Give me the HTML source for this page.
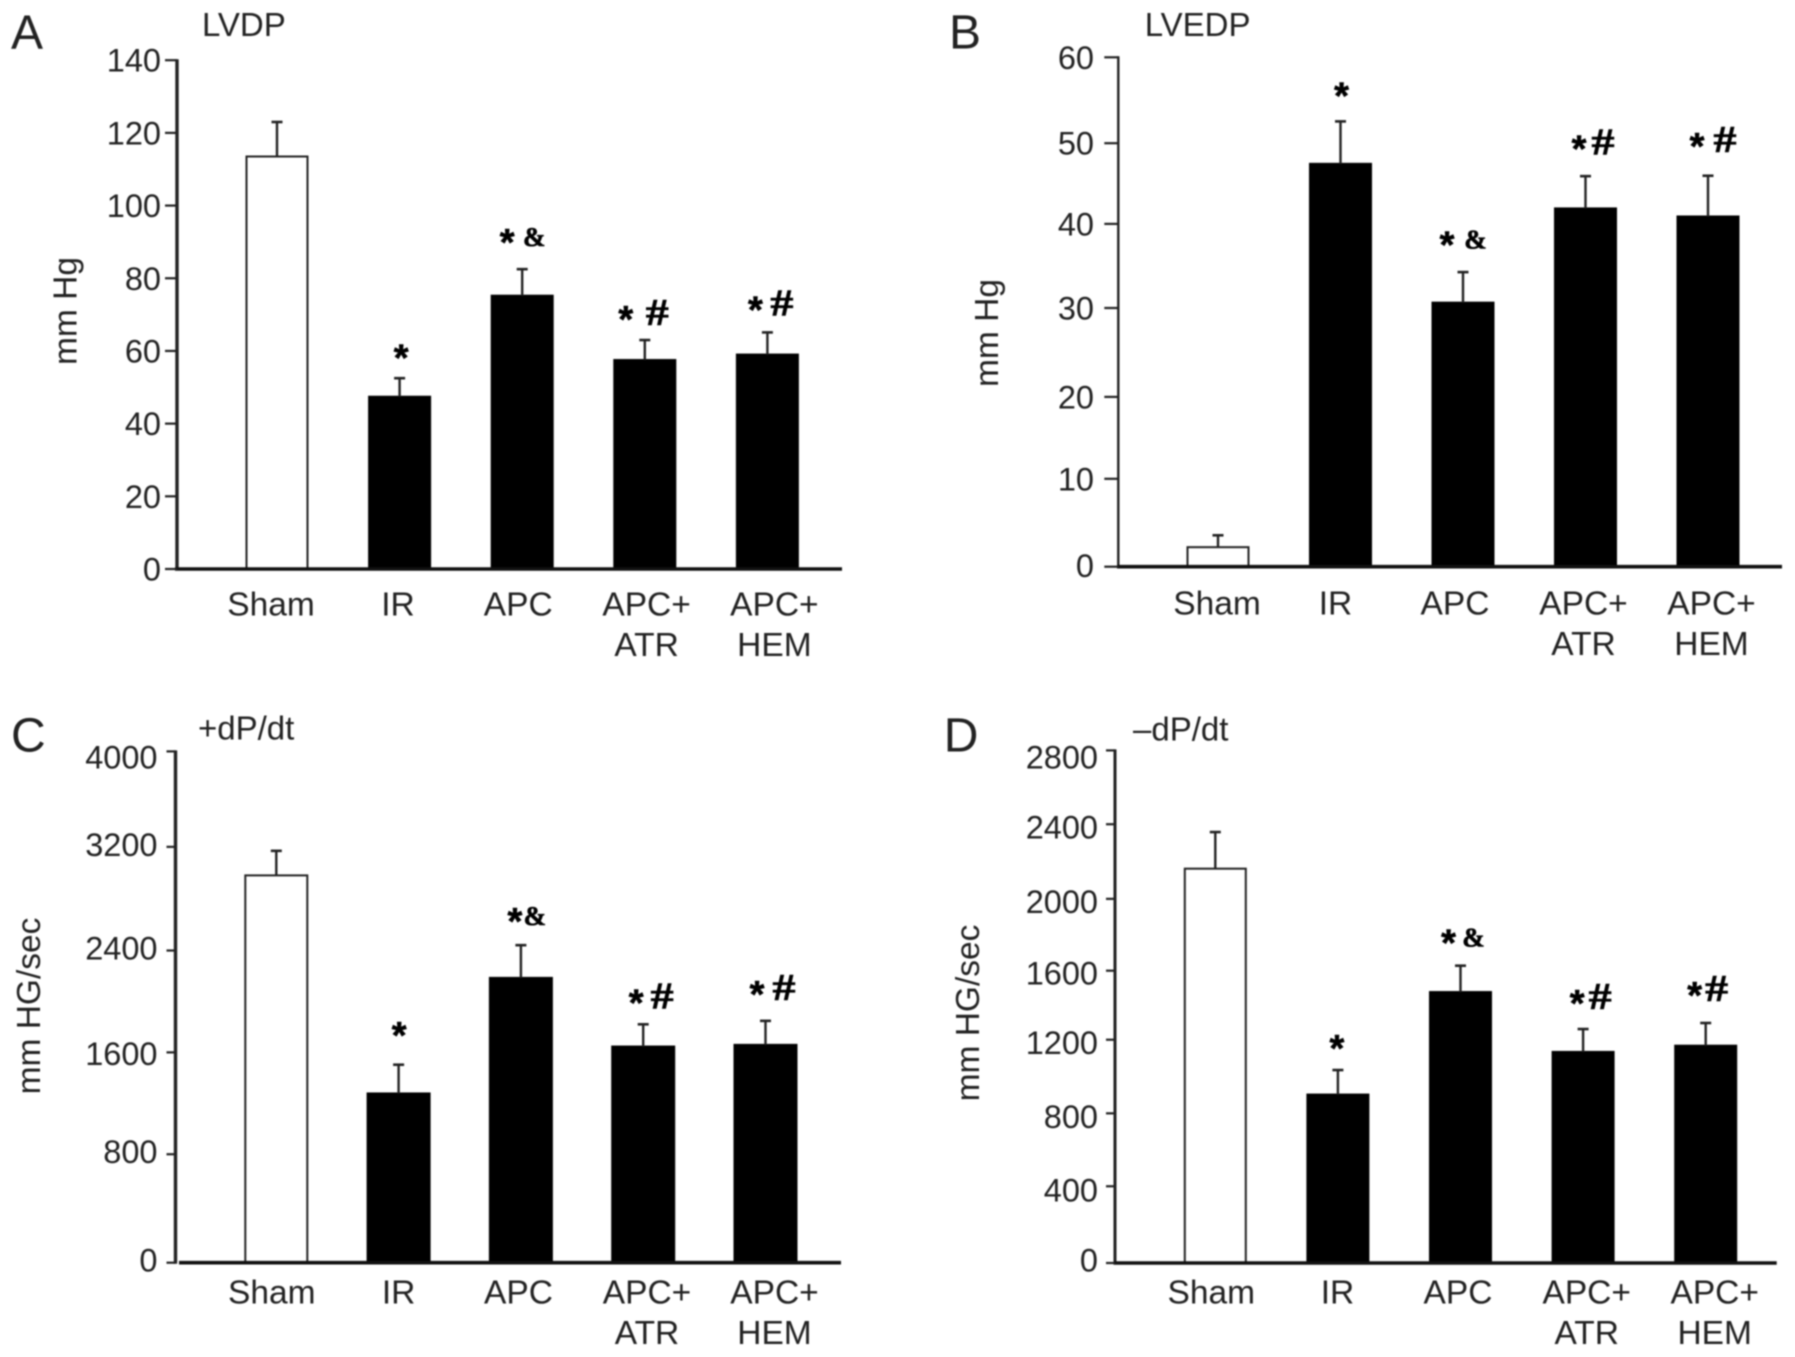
<!DOCTYPE html>
<html lang="en">
<head>
<meta charset="utf-8">
<title>Hemodynamic bar charts</title>
<style>
html,body{margin:0;padding:0;background:#fff;}
body{width:1795px;height:1357px;overflow:hidden;}
svg{display:block;filter:blur(.7px);}
text{font-family:"Liberation Sans",sans-serif;fill:#222;}
</style>
</head>
<body>
<svg id="figure" xmlns="http://www.w3.org/2000/svg" width="1795" height="1357" viewBox="0 0 1795 1357"></svg>
<script>
const categories = [["Sham"], ["IR"], ["APC"], ["APC+", "ATR"], ["APC+", "HEM"]];
const significance = ["", "*", "*&", "*#", "*#"];

const ticksA = [0, 20, 40, 60, 80, 100, 120, 140];
const valuesA = [113.5, 47.4, 75.2, 57.5, 59.0];
const errorsA = [9.5, 5.1, 7.3, 5.5, 6.1];
const sigLiftA = [0, 6.8, 8.6, 6.9, 7.4];

const ticksB = [0, 10, 20, 30, 40, 50, 60];
const valuesB = [2.3, 47.45, 31.1, 42.2, 41.25];
const errorsB = [1.4, 5.0, 3.6, 3.8, 4.8];
const sigLiftB = [0, 3.5, 3.7, 3.7, 4.0];

const ticksC = [0, 800, 1600, 2400, 3200, 4000];
const valuesC = [3030, 1324, 2228, 1691, 1704];
const errorsC = [192, 225, 256, 174, 188];
const sigLiftC = [0, 265, 222, 202, 242];

const ticksD = [0, 400, 800, 1200, 1600, 2000, 2400, 2800];
const valuesD = [2154, 920, 1480, 1153, 1187];
const errorsD = [200, 134, 144, 125, 124];
const sigLiftD = [0, 141, 149, 165, 175];

const NS = "http://www.w3.org/2000/svg";
const root = document.getElementById("figure");

function make(parent, tag, props, content) {
  const el = document.createElementNS(NS, tag);
  for (const k in props) el.setAttribute(k, props[k]);
  if (content !== undefined) el.textContent = content;
  parent.appendChild(el);
  return el;
}

function drawPanel(p) {
  const g = make(root, "g", {});
  
  

  const yMax = p.ticks[p.ticks.length - 1];
  const y = v => p.baseY - (v / yMax) * (p.baseY - p.topY);
  const cx = i => p.x0 + i * p.step;

  const letter = make(g, "text", {x: p.letterX, y: p.letterY, "font-size": 48}, p.letter);
  
  

  const title = make(g, "text", {x: p.titleX, y: p.titleY, "font-size": 33}, p.title);
  
  

  const yTitle = make(g, "text", {
    x: 0, y: 0, "font-size": 33.5, "text-anchor": "middle",
    transform: "translate(" + p.yTitleX + "," + p.yTitleY + ") rotate(-90)"
  }, p.yTitle);
  
  

  p.values.forEach((v, i) => {
    const w = p.barW;
    const bar = make(g, "rect", {
      x: cx(i) - w / 2, y: y(v), width: w, height: p.baseY - y(v),
      fill: i === 0 ? "#fff" : "#000",
      stroke: i === 0 ? "#222" : "#000", "stroke-width": 2
    });
    
    

    const topV = v + p.errors[i];
    const stem = make(g, "line", {x1: cx(i), x2: cx(i), y1: y(v), y2: y(topV), stroke: "#222", "stroke-width": 2.4});
    
    
    const cap = make(g, "line", {x1: cx(i) - 5.5, x2: cx(i) + 5.5, y1: y(topV), y2: y(topV), stroke: "#222", "stroke-width": 2.6});
    
    

    const sig = significance[i];
    if (sig) {
      const sy = y(topV + p.sigLift[i]);
      const star = make(g, "text", {
        x: cx(i) + p.starDx[i], y: sy + 17, "font-size": 38, "font-weight": "bold",
        "text-anchor": "middle", stroke: "#000", "stroke-width": 0.6, style: "fill:#000"
      }, "*");
      
      
      if (sig.length > 1) {
        const ch = sig[1];
        const props = {
          x: cx(i) + p.symDx[i], y: sy + (ch === "#" ? 10 : 8),
          "font-size": ch === "#" ? 38 : 27, "font-weight": "bold",
          "text-anchor": "middle", stroke: "#000", "stroke-width": 0.6,
          style: 'fill:#000;font-family:"Liberation Serif",serif'
        };
        if (ch === "#") {
          props.textLength = 23;
          props.lengthAdjust = "spacingAndGlyphs";
        }
        const mark = make(g, "text", props, ch);
        
        
      }
    }

    categories[i].forEach((line, k) => {
      const lab = make(g, "text", {
        x: cx(i) + p.labelDx[i], y: p.labelY + k * 40.5,
        "font-size": 33.5, "text-anchor": "middle"
      }, line);
      
      
    });
  });

  const yAxis = make(g, "line", {x1: p.axisX, x2: p.axisX, y1: p.topY - 1, y2: p.baseY + 1, stroke: "#222", "stroke-width": p.yAxisW});
  
  

  const xAxis = make(g, "line", {x1: p.baseStart, x2: p.axisEnd, y1: p.baseY, y2: p.baseY, stroke: "#111", "stroke-width": 3.6});
  
  

  p.ticks.forEach((t, i) => {
    const ty = y(t) + p.tickNudge[i];
    const tick = make(g, "line", {x1: p.axisX - p.tickLen, x2: p.axisX, y1: ty, y2: ty, stroke: "#222", "stroke-width": 2.2});
    
    
    const lab = make(g, "text", {
      x: p.tickLabelX, y: ty + 11.5 + p.labelNudge[i], "font-size": 32.5, "text-anchor": "end"
    }, String(t));
    
    
  });
}

drawPanel({
  key: "a", letter: "A", letterX: 11, letterY: 48.6, title: "LVDP", titleX: 202, titleY: 36,
  yTitle: "mm Hg", yTitleX: 76.5, yTitleY: 311,
  ticks: ticksA, values: valuesA, errors: errorsA, sigLift: sigLiftA,
  axisX: 177, baseStart: 175, axisEnd: 842, baseY: 569, topY: 60.2, tickLen: 12, yAxisW: 3.4,
  tickLabelX: 161, x0: 277, step: 122.6, barW: 61, labelY: 615.5,
  labelDx: [-6, -1.6, -4, 1.8, 7], starDx: [0, 1.5, -15, -19, -12], symDx: [0, 0, 12, 12.5, 14.5],
  tickNudge: [0, 0, 0, 0, 0, 0, 0, 0], labelNudge: [0, 0, 0, 0, 0, 0, 0, 0]
});

drawPanel({
  key: "b", letter: "B", letterX: 949, letterY: 48.6, title: "LVEDP", titleX: 1144.7, titleY: 36,
  yTitle: "mm Hg", yTitleX: 998, yTitleY: 333,
  ticks: ticksB, values: valuesB, errors: errorsB, sigLift: sigLiftB,
  axisX: 1118.3, baseStart: 1117, axisEnd: 1782, baseY: 566.7, topY: 57.3, tickLen: 14, yAxisW: 2.4,
  tickLabelX: 1094, x0: 1218, step: 122.5, barW: 61, labelY: 614.5,
  labelDx: [-1, -5, -8, -2, 3.5], starDx: [0, 1, -16, -6.5, -11], symDx: [0, 0, 12.5, 17.5, 17],
  tickNudge: [0, -3, 0, -4, -3.2, 1, 0], labelNudge: [-1, 0, 0, 0, 0, 0, 0]
});

drawPanel({
  key: "c", letter: "C", letterX: 11, letterY: 751.6, title: "+dP/dt", titleX: 198, titleY: 739.5,
  yTitle: "mm HG/sec", yTitleX: 40, yTitleY: 1006,
  ticks: ticksC, values: valuesC, errors: errorsC, sigLift: sigLiftC,
  axisX: 175.5, baseStart: 179, axisEnd: 841, baseY: 1262.7, topY: 751.4, tickLen: 9, yAxisW: 3.4,
  tickLabelX: 157.5, x0: 276.3, step: 122.3, barW: 62, labelY: 1303.5,
  labelDx: [-4.5, 0, -2.4, 3.8, 9], starDx: [0, 0.5, -6, -7, -8.5], symDx: [0, 0, 14, 19, 18.5],
  tickNudge: [0, -6.2, -5.8, -5.4, -6.8, 0], labelNudge: [-2.5, -2.5, 1, -2.5, -2.5, 5.6]
});

drawPanel({
  key: "d", letter: "D", letterX: 943.8, letterY: 751.6, title: "\u2013dP/dt", titleX: 1133, titleY: 740.3,
  yTitle: "mm HG/sec", yTitleX: 979, yTitleY: 1013,
  ticks: ticksD, values: valuesD, errors: errorsD, sigLift: sigLiftD,
  axisX: 1115, baseStart: 1113.5, axisEnd: 1776.7, baseY: 1263, topY: 750.4, tickLen: 9, yAxisW: 3,
  tickLabelX: 1098, x0: 1215.3, step: 122.6, barW: 61, labelY: 1303.5,
  labelDx: [-4, -0.4, -2.5, 3.6, 9], starDx: [0, -1, -12, -6, -11], symDx: [0, 0, 13, 17, 11],
  tickNudge: [0, -3.5, -3.2, -3.6, 0.6, 2, 0.6, 0], labelNudge: [-3, 3.5, 3, 3, 2.2, 2.6, 3, 6.5]
});
</script>
</body>
</html>
